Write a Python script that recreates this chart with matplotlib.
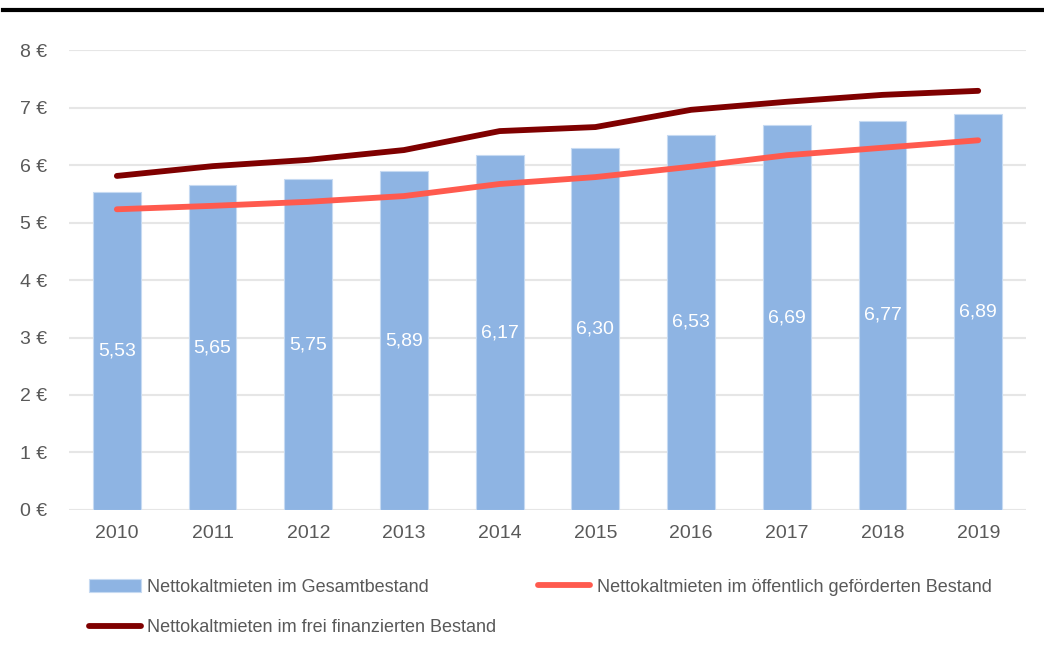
import matplotlib
matplotlib.use("Agg")
import matplotlib.pyplot as plt
from matplotlib import font_manager
from matplotlib.lines import Line2D

# Data
years = ["2010", "2011", "2012", "2013", "2014", "2015", "2016", "2017", "2018", "2019"]
gesamt = [5.53, 5.65, 5.75, 5.89, 6.17, 6.30, 6.53, 6.69, 6.77, 6.89]
gefoerdert = [5.23, 5.29, 5.36, 5.46, 5.67, 5.79, 5.97, 6.17, 6.30, 6.43]
frei = [5.81, 5.98, 6.09, 6.26, 6.59, 6.66, 6.96, 7.10, 7.22, 7.29]
yticks = [0, 1, 2, 3, 4, 5, 6, 7, 8]

names = {f.name for f in font_manager.fontManager.ttflist}
fam = "Liberation Sans Narrow" if "Liberation Sans Narrow" in names else "Liberation Sans"
plt.rcParams["font.family"] = [fam, "DejaVu Sans"]

text_col = "#595959"

fig = plt.figure(figsize=(10.44, 6.53), dpi=100)
ax = fig.add_axes([0.0661, 0.219, 0.9167, 0.7044])

x = list(range(len(years)))
bars = ax.bar(x, gesamt, width=0.5, color="#8EB4E3", edgecolor="#C6DAF2",
              linewidth=0.8, label="Nettokaltmieten im Gesamtbestand", zorder=2)
l_frei, = ax.plot(x, frei, color="#7F0000", linewidth=4.2, solid_capstyle="round",
                  label="Nettokaltmieten im frei finanzierten Bestand", zorder=3)
l_oeff, = ax.plot(x, gefoerdert, color="#FF5A4E", linewidth=4.2, solid_capstyle="round",
                  label="Nettokaltmieten im öffentlich geförderten Bestand", zorder=3)

# value labels inside the bars
for xi, v in zip(x, gesamt):
    ax.text(xi, v / 2, f"{v:.2f}".replace(".", ","), ha="center", va="center",
            color="white", fontsize=14, zorder=4)

ax.set_xlim(-0.5, len(years) - 0.5)
ax.set_ylim(0, 8)
ax.set_yticks(yticks)
ax.set_yticklabels([f"{t} €" for t in yticks])
ax.set_xticks(x)
ax.set_xticklabels(years)
ax.tick_params(axis="both", length=0, labelsize=14, colors=text_col)
ax.tick_params(axis="y", pad=16)
ax.tick_params(axis="x", pad=11)
ax.grid(axis="y", color="#E6E6E6", linewidth=1.5, zorder=0)
for s in ax.spines.values():
    s.set_visible(False)

fig.legend(handles=[bars, l_frei, l_oeff], loc="upper left",
           bbox_to_anchor=(0.078, 0.125), ncol=2, frameon=False, borderaxespad=0,
           fontsize=13, labelcolor=text_col, handlelength=2.9, handletextpad=0.35,
           columnspacing=2.3, labelspacing=1.3)

# black rule at the top
fig.add_artist(Line2D([0.003, 1.0], [0.985, 0.985], color="black", linewidth=3,
                      transform=fig.transFigure))

fig.savefig("out.png", dpi=100)
